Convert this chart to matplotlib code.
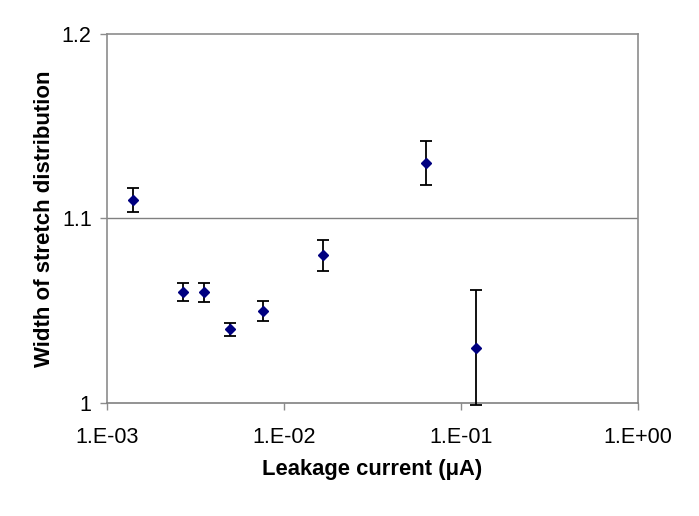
import matplotlib
matplotlib.use("Agg")
import matplotlib.pyplot as plt
from matplotlib.ticker import FixedLocator, NullLocator

plt.rcParams['font.family'] = ['Liberation Sans', 'DejaVu Sans']

current = [1.41e-3, 2.68e-3, 3.52e-3, 4.94e-3, 7.59e-3, 1.66e-2, 6.38e-2, 0.121]
width = [1.110, 1.060, 1.060, 1.040, 1.050, 1.080, 1.130, 1.030]
err = [0.0065, 0.0048, 0.0052, 0.0036, 0.0054, 0.0084, 0.012, 0.031]

xticks = [1e-3, 1e-2, 1e-1, 1e0]
xticklabels = ["1.E-03", "1.E-02", "1.E-01", "1.E+00"]
yticks = [1.0, 1.1, 1.2]
yticklabels = ["1", "1.1", "1.2"]

fig = plt.figure(figsize=(6.99, 5.16), dpi=100)
ax = fig.add_axes([107/699, 1-403/516, (638-107)/699, (403-34)/516])

eb = ax.errorbar(current, width, yerr=err, fmt='D', color='#000080', markersize=5,
                 ecolor='black', elinewidth=1.3, capsize=4, capthick=1.3, zorder=3)
for artist in eb.lines[1] + eb.lines[2] + (eb.lines[0],):
    artist.set_clip_on(False)

ax.set_xscale('log')
ax.set_xlim(1e-3, 1)
ax.set_ylim(1.0, 1.2)
ax.xaxis.set_major_locator(FixedLocator(xticks))
ax.xaxis.set_minor_locator(NullLocator())
ax.set_xticklabels(xticklabels)
ax.set_yticks(yticks)
ax.set_yticklabels(yticklabels)
ax.axhline(1.1, color='#808080', linewidth=1.0, zorder=1)

for s in ax.spines.values():
    s.set_color('#8c8c8c')
    s.set_linewidth(1.2)
ax.spines['bottom'].set_color('#808080')

ax.tick_params(axis='both', direction='out', length=5, width=1, color='#8c8c8c',
               labelsize=15.5, pad=6)
ax.tick_params(axis='x', pad=12)

ax.set_xlabel('Leakage current (\u03bcA)', fontsize=15.8, fontweight='bold', labelpad=8)
ax.set_ylabel('Width of stretch distribution', fontsize=16, fontweight='bold', labelpad=5)

fig.savefig('out.png', dpi=100)
